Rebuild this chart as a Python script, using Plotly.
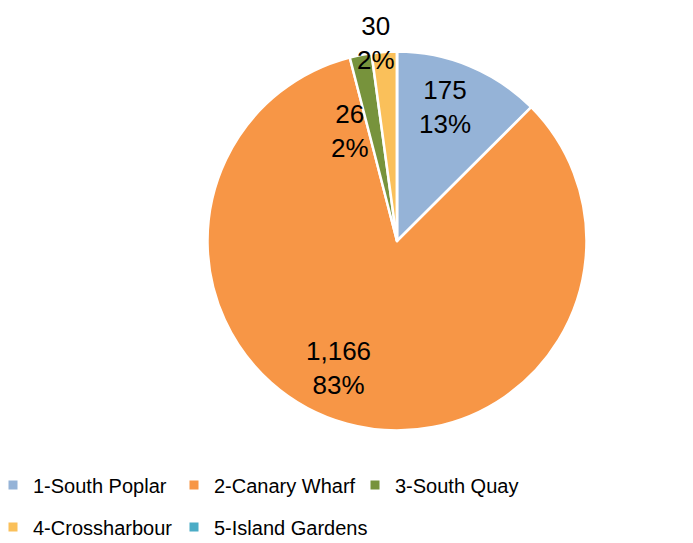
import math
import plotly.graph_objects as go

labels = ["1-South Poplar", "2-Canary Wharf", "3-South Quay", "4-Crossharbour", "5-Island Gardens"]
values = [175, 1166, 26, 30, 0]
colors = ["#95B3D7", "#F79646", "#77933C", "#FAC05A", "#4BACC6"]

W, H = 693, 543
CX, CY, R = 389, 233, 189.5   # figure px (page adds ~8px body margin)
FONT = "Liberation Sans, Arial, sans-serif"

fig = go.Figure()
fig.add_trace(go.Pie(
    labels=labels, values=values, sort=False, direction="clockwise", rotation=0,
    marker=dict(colors=colors, line=dict(color="white", width=2.5)),
    textinfo="none", hoverinfo="label+value+percent", showlegend=False,
    domain=dict(x=[(CX - R) / W, (CX + R) / W], y=[1 - (CY + R) / H, 1 - (CY - R) / H]),
))

# data labels: placed along slice mid-angles (Excel "best fit" style tweaks)
label_r = [0.75, 0.74, 0.63, 1.05]
label_da = [-3, 9.5, -12, -2.3]
total = sum(values)
cum = 0
annotations = []
for i, v in enumerate(values):
    if v == 0:
        cum += v
        continue
    mid = (cum + v / 2) / total * 360 + label_da[i]
    cum += v
    px = CX + label_r[i] * R * math.sin(math.radians(mid))
    py = CY - label_r[i] * R * math.cos(math.radians(mid))
    annotations.append(dict(
        x=px / W, y=1 - py / H, xref="paper", yref="paper", showarrow=False,
        xanchor="center", yanchor="middle",
        text=f"{v:,}<br>{round(v / total * 100)}%", font=dict(family=FONT, size=26, color="#000000"),
        align="center",
    ))

# legend entries (two rows, as in the reference)
for i, (lab, col) in enumerate(zip(labels, colors)):
    fig.add_trace(go.Scatter(
        x=[None], y=[None], mode="markers", name=lab,
        marker=dict(symbol="square", size=9, color=col),
        legend="legend" if i < 3 else "legend2", hoverinfo="skip",
    ))
# blank spacer so both rows share the same grid and nothing is clipped
fig.add_trace(go.Scatter(x=[None], y=[None], mode="markers", name=" ",
                         marker=dict(symbol="square", size=9, color="rgba(0,0,0,0)"),
                         legend="legend2", hoverinfo="skip"))

ENTRY_W = 136
LEG_LEFT = -15
leg_w = 3 * (ENTRY_W + 45)
legend_common = dict(orientation="h", font=dict(family=FONT, size=20, color="#000000"),
                     bgcolor="rgba(0,0,0,0)", xanchor="center", yanchor="middle",
                     itemwidth=30, tracegroupgap=0, entrywidth=ENTRY_W, entrywidthmode="pixels")
fig.update_layout(
    width=W, height=H, margin=dict(l=0, r=0, t=0, b=0, autoexpand=False),
    paper_bgcolor="white", plot_bgcolor="white",
    xaxis=dict(visible=False), yaxis=dict(visible=False),
    annotations=annotations,
    legend=dict(x=(LEG_LEFT + leg_w / 2) / W, y=1 - 477 / H, **legend_common),
    legend2=dict(x=(LEG_LEFT + leg_w / 2) / W, y=1 - 519 / H, **legend_common),
    showlegend=True,
)
fig.write_html("out.html")
